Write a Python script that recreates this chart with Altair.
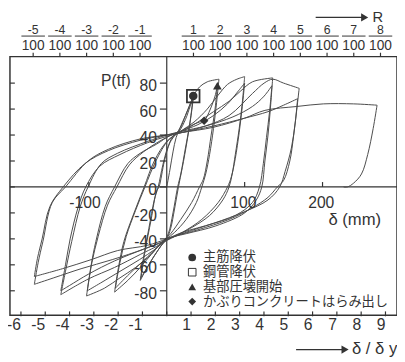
import altair as alt
import pandas as pd

# ---------------- data (delta mm, P tf) ----------------
b00 = [(0, 0), (4, 13), (8, 27), (12, 38), (18, 47), (24, 55), (29, 62), (34, 70)]
b01 = [(34, 70), (31, 55), (26, 35), (20, 15), (15, 0), (10, -17), (5, -32), (0, -40),
       (-8, -46), (-16, -53), (-25, -62), (-34, -72)]
b02 = [(-34, -72), (-30, -55), (-23, -32), (-16, -10), (-11, 0), (-5, 17), (1, 30), (8, 39),
       (16, 43), (24, 52), (30, 62), (34, 68)]
b03 = [(34, 68), (30, 50), (24, 30), (18, 10), (14, 0), (8, -20), (2, -36), (-6, -44),
       (-18, -55), (-33, -70)]
b04 = [(-33, -70), (-28, -50), (-20, -25), (-13, -3), (-10, 0), (-3, 20), (4, 34), (12, 41),
       (18, 46), (24, 55), (30, 64), (36, 72), (42, 77), (52, 81), (67, 83)]
b05 = [(67, 83), (64, 65), (60, 45), (55, 25), (50, 10), (45, 0), (38, -12), (25, -25),
       (10, -35), (0, -40), (-8, -44), (-20, -52), (-34, -62), (-50, -72), (-67, -81)]
b06 = [(-67, -81), (-62, -62), (-55, -42), (-42, -20), (-29, 0), (-16, 20), (0, 35), (16, 42),
       (30, 47), (42, 50), (48, 51), (56, 60), (62, 70), (65, 78)]
b07 = [(65, 78), (62, 60), (57, 40), (52, 20), (47, 6), (42, 0), (32, -12), (18, -25),
       (5, -36), (-5, -42), (-18, -50), (-32, -58), (-48, -67), (-66, -78)]
b08 = [(-66, -78), (-60, -58), (-52, -38), (-40, -18), (-28, 0), (-14, 20), (2, 36), (18, 43),
       (35, 50), (52, 60), (65, 70), (78, 79), (90, 83), (100, 85)]
b09 = [(100, 85), (97, 65), (93, 45), (88, 25), (84, 10), (80, 0), (72, -10), (55, -22),
       (30, -32), (10, -38), (-5, -42), (-20, -52), (-40, -62), (-60, -70), (-80, -78), (-103, -84)]
b10 = [(-103, -84), (-97, -60), (-91, -42), (-79, -15), (-67, 0), (-50, 18), (-34, 26),
       (-13, 33), (5, 40), (18, 43), (40, 48), (60, 55), (78, 64), (92, 74), (100, 80)]
b11 = [(100, 80), (97, 62), (93, 42), (88, 22), (83, 8), (78, 0), (66, -12), (45, -25),
       (20, -35), (0, -41), (-15, -48), (-35, -56), (-60, -65), (-85, -74), (-102, -80)]
b12 = [(-102, -80), (-96, -58), (-88, -38), (-76, -14), (-64, 0), (-48, 17), (-30, 27),
       (-10, 35), (10, 41), (20, 43), (40, 50), (60, 58), (80, 66), (95, 74), (110, 81), (136, 84)]
b13 = [(136, 84), (133, 60), (130, 40), (126, 20), (122, 0), (115, -10), (100, -20), (63, -30),
       (25, -36), (0, -40), (-8, -44), (-34, -52), (-67, -62), (-101, -71), (-136, -83)]
b14 = [(-136, -83), (-129, -62), (-122, -42), (-111, -15), (-101, 0), (-84, 18), (-63, 26),
       (-25, 35), (0, 40), (20, 43), (50, 47), (85, 54), (110, 62), (125, 70), (135, 78)]
b15 = [(135, 78), (132, 58), (128, 38), (124, 18), (119, 0), (110, -12), (88, -22), (50, -30),
       (15, -37), (-3, -42), (-30, -48), (-67, -57), (-100, -67), (-125, -76), (-136, -80)]
b16 = [(-136, -80), (-130, -60), (-124, -40), (-114, -16), (-104, 0), (-86, 16), (-60, 25),
       (-25, 34), (0, 39), (20, 42), (50, 47), (80, 55), (110, 72), (125, 80), (136, 83),
       (150, 80), (170, 76)]
b17 = [(170, 76), (167, 60), (163, 40), (158, 20), (150, 5), (142, 0), (130, -8), (110, -16),
       (80, -25), (40, -33), (10, -38), (-5, -42), (-30, -48), (-70, -56), (-110, -63),
       (-145, -70), (-170, -75)]
b18 = [(-170, -75), (-165, -58), (-159, -42), (-147, -12), (-130, 0), (-101, 20), (-75, 29),
       (-34, 37), (0, 40), (20, 42), (60, 47), (100, 53), (130, 58), (150, 63), (168, 68)]
b19 = [(168, 68), (165, 50), (160, 30), (152, 12), (145, 0), (130, -10), (100, -19), (60, -28),
       (20, -35), (0, -40), (-25, -45), (-63, -49), (-97, -56), (-134, -63), (-170, -69)]
b20 = [(-170, -69), (-166, -55), (-160, -40), (-150, -15), (-133, 0), (-105, 18), (-75, 28),
       (-34, 36), (0, 40), (20, 42), (60, 46), (100, 53), (126, 59), (167, 62), (201, 64),
       (240, 64), (270, 63)]
b21 = [(270, 63), (265, 45), (258, 25), (250, 10), (240, 3), (232, 0), (227, 0)]

branches = [b00, b01, b02, b03, b04, b05, b06, b07, b08, b09, b10, b11,
            b12, b13, b14, b15, b16, b17, b18, b19, b20, b21]

legend_labels = ["主筋降伏", "鋼管降伏", "基部圧壊開始", "かぶりコンクリートはらみ出し"]
legend_shapes = ["circle", "square", "triangle-up", "diamond"]
legend_filled = [True, False, True, True]

circle_pt = (34, 70)      # 主筋降伏
square_pt = (34, 70)      # 鋼管降伏
triangle_pt = (65, 78)    # 基部圧壊開始
diamond_pt = (48, 51)     # かぶりコンクリートはらみ出し

p_ticks = [80, 60, 40, 20, 0, -20, -40, -60, -80]
p_labels = ["80", "60", "40", "20", "0", "-20", "-40", "-60", "-80"]
d_ticks = [-100, 100, 200]
d_labels = ["-100", "100", "200"]
ratio_ticks = [-6, -5, -4, -3, -2, -1, 0, 1, 2, 3, 4, 5, 6, 7, 8, 9]
ratio_labels = ["-6", "-5", "-4", "-3", "-2", "-1", "", "1", "2", "3", "4", "5", "6", "7", "8", "9"]
delta_y_mm = 31.2
r_ticks = [-5, -4, -3, -2, -1, 1, 2, 3, 4, 5, 6, 7, 8]
r_numer = ["-5", "-4", "-3", "-2", "-1", "1", "2", "3", "4", "5", "6", "7", "8"]
r_mm = 34.3  # delta for R = 1/100

# ---------------- tables ----------------
rows = []
for bi, br in enumerate(branches):
    for i, (d, p) in enumerate(br):
        rows.append({"branch": bi, "i": i, "d": d, "p": p})
loops = pd.DataFrame(rows)

XD = [-201.3, 295.6]
YD = [-98.9, 100.4]
xs = alt.Scale(domain=XD, nice=False, zero=False)
ys = alt.Scale(domain=YD, nice=False, zero=False)
INK = "#333333"
NUMFONT = "Liberation Sans"
JPFONT = "Noto Sans CJK JP"


def X(f):
    return alt.X(f, type="quantitative", scale=xs, axis=None)


def Y(f):
    return alt.Y(f, type="quantitative", scale=ys, axis=None)


lines = alt.Chart(loops).mark_line(color="#4a4a4a", strokeWidth=1, interpolate="catmull-rom").encode(
    x=X("d"), y=Y("p"), detail="branch:N", order="i:Q")

zero_h = alt.Chart(pd.DataFrame({"p": [0]})).mark_rule(color=INK, strokeWidth=1.2).encode(y=Y("p"))
zero_v = alt.Chart(pd.DataFrame({"d": [0]})).mark_rule(color=INK, strokeWidth=1.2).encode(x=X("d"))

ptab = pd.DataFrame({"p": p_ticks, "lab": p_labels, "d0": [0] * len(p_ticks),
                     "dl": [XD[0]] * len(p_ticks)})
p_tick_marks = alt.Chart(ptab).mark_rule(color=INK, strokeWidth=1.2, x2Offset=-7).encode(
    x=X("d0"), x2="d0", y=Y("p"))
p_tick_left = alt.Chart(ptab).mark_rule(color=INK, strokeWidth=1.2, x2Offset=5).encode(
    x=X("dl"), x2="dl", y=Y("p"))
p_text = alt.Chart(ptab).mark_text(align="right", baseline="middle", dx=-10, dy=3, fontSize=16,
                                   font=NUMFONT, color=INK).encode(
    x=X("d0"), y=Y("p"), text="lab:N")

dtab = pd.DataFrame({"d": d_ticks, "lab": d_labels, "p0": [0] * len(d_ticks)})
d_tick_marks = alt.Chart(dtab).mark_rule(color=INK, strokeWidth=1.2, y2Offset=-5).encode(
    x=X("d"), y=Y("p0"), y2="p0")
d_text = alt.Chart(dtab).mark_text(align="right", baseline="middle", dx=12, dy=16, fontSize=16,
                                   font=NUMFONT, color=INK).encode(
    x=X("d"), y=Y("p0"), text="lab:N")

rtab = pd.DataFrame({"d": [k * delta_y_mm for k in ratio_ticks], "lab": ratio_labels,
                     "pb": [YD[0]] * len(ratio_ticks)})
r_bottom_ticks = alt.Chart(rtab).mark_rule(color=INK, strokeWidth=1.2, y2Offset=-4, yOffset=1).encode(
    x=X("d"), y=Y("pb"), y2="pb")
r_bottom_text = alt.Chart(rtab).mark_text(align="right", baseline="middle", dx=0, dy=10, fontSize=16,
                                          font=NUMFONT, color=INK).encode(
    x=X("d"), y=Y("pb"), text="lab:N")

ttab = pd.DataFrame({"d": [k * r_mm for k in r_ticks], "num": r_numer, "den": ["100"] * len(r_ticks),
                     "pt": [YD[1]] * len(r_ticks)})
top_ticks = alt.Chart(ttab).mark_rule(color=INK, strokeWidth=1.2, y2Offset=-4).encode(
    x=X("d"), y=Y("pt"), y2="pt")
top_num = alt.Chart(ttab).mark_text(align="center", baseline="middle", dy=-27, fontSize=12.5,
                                    font=NUMFONT, color=INK).encode(
    x=X("d"), y=Y("pt"), text="num:N")
top_bar = alt.Chart(ttab).mark_rule(color=INK, strokeWidth=1, xOffset=-12, x2Offset=12,
                                    yOffset=-21).encode(
    x=X("d"), x2="d", y=Y("pt"))
top_den = alt.Chart(ttab).mark_text(align="center", baseline="middle", dy=-11, fontSize=14,
                                    font=NUMFONT, color=INK).encode(
    x=X("d"), y=Y("pt"), text="den:N")

ttl = pd.DataFrame({"t": [0]})


def label(txt, x, y, size=16, align="left", font=NUMFONT, baseline="middle"):
    return alt.Chart(ttl).mark_text(text=txt, align=align, baseline=baseline, fontSize=size,
                                    font=font, color=INK).encode(
        x=alt.value(x), y=alt.value(y))


p_title = label("P(tf)", 93, 25)
d_title = label("δ (mm)", 325, 167, size=17)
r_title = label("R", 370, -35, size=15, baseline="alphabetic")
r_arrow = alt.Chart(ttl).mark_rule(color=INK, strokeWidth=1.3).encode(
    x=alt.value(312), x2=alt.value(360), y=alt.value(-40))
r_head = alt.Chart(ttl).mark_point(shape="triangle-right", filled=True, size=70, color=INK,
                                   opacity=1).encode(x=alt.value(362), y=alt.value(-40))
b_arrow = alt.Chart(ttl).mark_rule(color=INK, strokeWidth=1.3).encode(
    x=alt.value(292), x2=alt.value(340), y=alt.value(299))
b_head = alt.Chart(ttl).mark_point(shape="triangle-right", filled=True, size=70, color=INK,
                                   opacity=1).encode(x=alt.value(342), y=alt.value(299))
b_title = label("δ / δ y", 349, 298, size=17)


def pt_layer(pt, shape, size, filled, sw=1.0):
    return alt.Chart(pd.DataFrame({"d": [pt[0]], "p": [pt[1]]})).mark_point(
        shape=shape, size=size, filled=filled, color=INK, opacity=1, strokeWidth=sw).encode(
        x=X("d"), y=Y("p"))


marks = [
    pt_layer(square_pt, "square", 165, False, 1.8),
    pt_layer(circle_pt, "circle", 75, True),
    pt_layer(triangle_pt, "triangle-up", 80, True),
    pt_layer(diamond_pt, "diamond", 75, True),
]

legend_layers = []
for k, (lab, shp, fil) in enumerate(zip(legend_labels, legend_shapes, legend_filled)):
    yrow = 205 + 15 * k
    legend_layers.append(
        alt.Chart(ttl).mark_point(shape=shp, size=62 if shp != "square" else 60, filled=fil,
                                  color=INK, opacity=1, strokeWidth=1).encode(
            x=alt.value(186), y=alt.value(yrow)))
    legend_layers.append(label(lab, 197, yrow, size=13.5, font=JPFONT))

chart = alt.layer(
    zero_h, zero_v, lines, p_tick_marks, p_tick_left, p_text, d_tick_marks, d_text,
    r_bottom_ticks, r_bottom_text, top_ticks, top_num, top_bar, top_den,
    p_title, d_title, r_title, r_arrow, r_head, b_arrow, b_head, b_title,
    *marks, *legend_layers
).properties(
    width=395, height=264,
    autosize=alt.AutoSizeParams(type="none"),
    padding={"left": 2, "top": 46, "right": 0, "bottom": 44},
    background="white"
).configure_view(stroke=INK, strokeWidth=1.5)

chart.save("out.html", embed_options={"renderer": "svg", "actions": False})
